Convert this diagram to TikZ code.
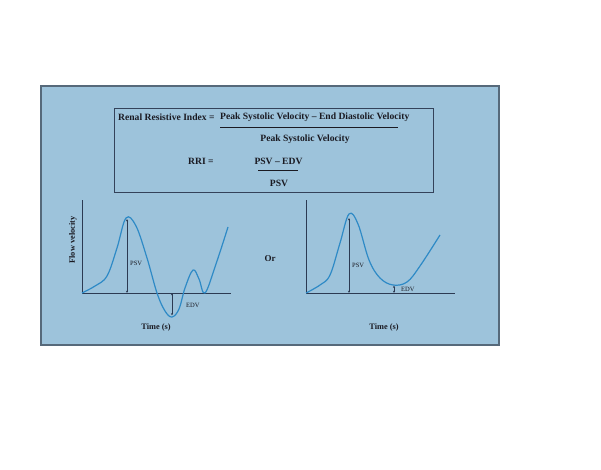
\documentclass[tikz,border=0pt]{standalone}
\usepackage{fontspec}
\setmainfont{Liberation Serif}
\usetikzlibrary{arrows.meta}
\definecolor{panelfill}{HTML}{9DC3DB}
\definecolor{panelborder}{HTML}{56697A}
\definecolor{boxline}{HTML}{34425A}
\definecolor{curveblue}{HTML}{2E8AC6}
\definecolor{axiscol}{HTML}{2C3A52}
\definecolor{txt}{HTML}{1A1A22}
\tikzset{
  bigtxt/.style={font=\fontsize{8.3}{9}\selectfont\bfseries, text=txt, inner sep=0pt},
  formtxt/.style={font=\fontsize{9.6}{11}\selectfont\bfseries, text=txt, inner sep=0pt},
  smalltxt/.style={font=\fontsize{6.5}{7}\selectfont, text=txt, inner sep=0pt},
  axis/.style={draw=axiscol, line width=0.9pt},
  curve/.style={draw=curveblue, line width=1.2pt, line join=round},
  measure/.style={draw=axiscol, line width=0.5pt, {Stealth[length=2.4pt,width=2pt]}-{Stealth[length=2.4pt,width=2pt]}},
  fracline/.style={draw=txt, line width=0.9pt}
}
\begin{document}
\begin{tikzpicture}[x=1pt,y=-1pt]
\useasboundingbox (0,0) rectangle (601,470);
\fill[white] (0,0) rectangle (601,470);
% panel
\draw[fill=panelfill, draw=panelborder, line width=1.8pt] (41,86) rectangle (499,345);
% formula box
\draw[draw=boxline, line width=0.9pt] (114,108) rectangle (433,192);
\node[formtxt, anchor=west] (rri) at (118,117) {Renal Resistive Index =};
\node[formtxt, anchor=west] (num) at (220,117) {Peak Systolic Velocity -- End Diastolic Velocity};
\coordinate (f1a) at (220,127);
\coordinate (f1b) at (398,127);
\draw[fracline] (f1a) -- (f1b);
\node[formtxt] (den) at (305,139) {Peak Systolic Velocity};
\node[formtxt, anchor=west] (rri2) at (188,161) {RRI =};
\node[formtxt] (num2) at (278.5,161) {PSV -- EDV};
\coordinate (f2a) at (258,170.5);
\coordinate (f2b) at (298,170.5);
\draw[fracline] (f2a) -- (f2b);
\node[formtxt] (den2) at (279,183) {PSV};
% left graph
\coordinate (lo) at (82,293);
\coordinate (ltop) at (82,200);
\coordinate (lend) at (231,293);
\draw[axis] (ltop) -- (lo) -- (lend);
\draw[curve] plot[smooth, tension=0.6] coordinates {(82,293) (95,286) (107,276) (117,248) (126,218) (136,226) (147,258) (157,293) (165,311) (172,317) (179,309) (185,288) (193,270) (199,279) (205,293) (216,264) (228,227)};
\coordinate (lp1) at (127,219);
\coordinate (lp2) at (127,293);
\draw[measure] (lp1) -- (lp2);
\coordinate (le1) at (172,293);
\coordinate (le2) at (172,315.5);
\draw[measure] (le1) -- (le2);
\node[smalltxt, anchor=west] (lpsv) at (130,263) {PSV};
\node[smalltxt, anchor=west] (ledv) at (186,305) {EDV};
\node[bigtxt, rotate=90] (ylab) at (73,240) {Flow velocity};
\node[bigtxt] (lxlab) at (156,328) {Time (s)};
% or
\node[font=\fontsize{9}{10}\selectfont\bfseries, text=txt, inner sep=0pt] (or) at (270,259) {Or};
% right graph
\coordinate (ro) at (306,293);
\coordinate (rtop) at (306,200);
\coordinate (rend) at (455,293);
\draw[axis] (rtop) -- (ro) -- (rend);
\draw[curve] plot[smooth, tension=0.6] coordinates {(306,293) (320,285) (330,275) (340,243) (349,214) (358,224) (369,260) (380,278) (393,285) (407,282) (420,266) (440,235)};
\coordinate (rp1) at (349,218);
\coordinate (rp2) at (349,293);
\draw[measure] (rp1) -- (rp2);
\coordinate (re1) at (394,285.5);
\coordinate (re2) at (394,293);
\draw[measure] (re1) -- (re2);
\node[smalltxt, anchor=west] (rpsv) at (352,265) {PSV};
\node[smalltxt, anchor=west] (redv) at (401,289) {EDV};
\node[bigtxt] (rxlab) at (384,328) {Time (s)};
\end{tikzpicture}
\end{document}
